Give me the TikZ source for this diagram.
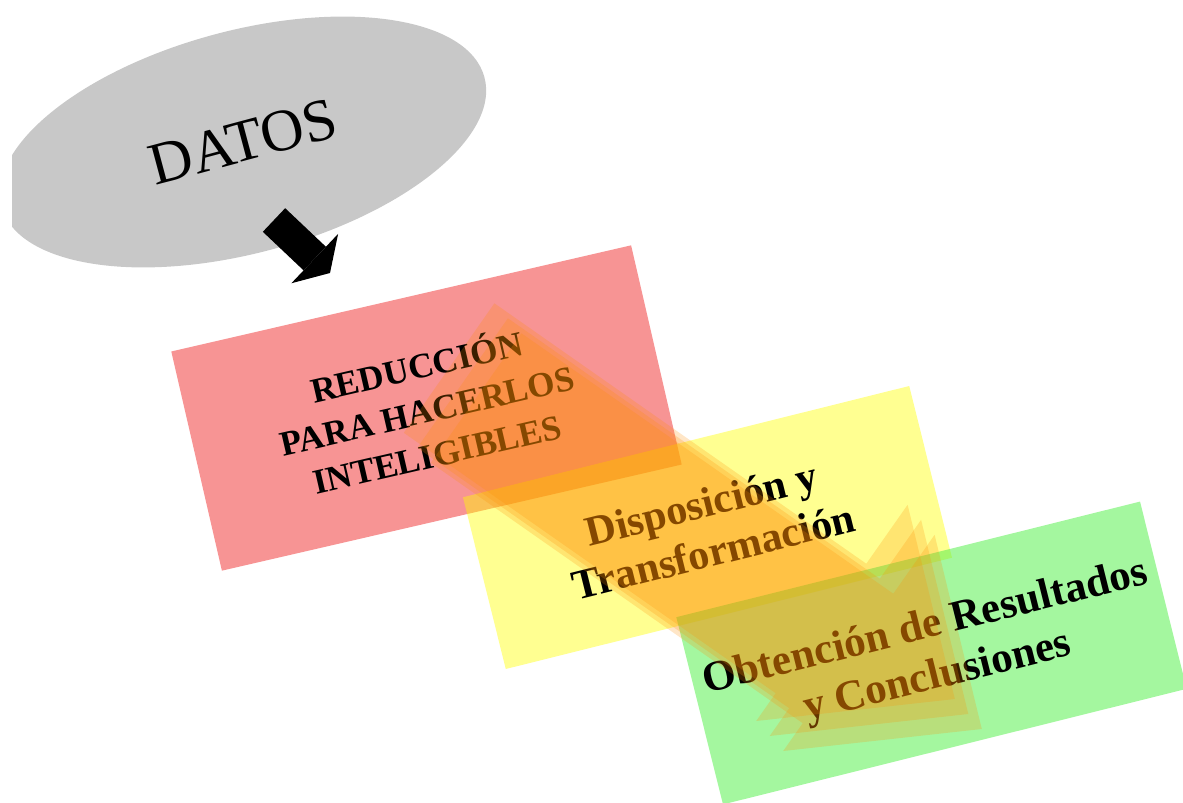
\documentclass[tikz,border=0pt]{standalone}
\usepackage{fontspec}
\setmainfont{Liberation Serif}
\usetikzlibrary{shapes.geometric, arrows.meta}
\definecolor{datosgray}{RGB}{200,200,200}
\definecolor{stepredc}{RGB}{240,60,60}
\definecolor{stepyellowc}{RGB}{255,255,0}
\definecolor{stepgreenc}{RGB}{90,240,80}
\definecolor{floworange}{RGB}{255,140,0}

\begin{document}
\begin{tikzpicture}[x=0.02cm, y=-0.02cm,
  datos/.style={ellipse, fill=datosgray, inner sep=0pt, minimum width=10cm,
    minimum height=4.45cm, rotate=15, font=\fontsize{34}{40}\selectfont},
  datosarrow/.style={line width=0.65cm,
    -{Triangle[length=0.42cm, width=1.36cm, line width=0pt]}},
  stepbox/.style={rectangle, inner sep=0pt, align=center, text=black,
    fill opacity=.55, text opacity=1},
  stepred/.style={stepbox, fill=stepredc, minimum width=9.44cm, minimum height=4.5cm,
    rotate=13, font=\fontsize{20}{25.5}\selectfont\bfseries},
  stepyellow/.style={stepbox, fill=stepyellowc, fill opacity=.43, minimum width=9.2cm,
    minimum height=3.54cm, rotate=14, font=\fontsize{24}{28}\selectfont\bfseries},
  stepgreen/.style={stepbox, fill=stepgreenc, minimum width=9.56cm, minimum height=3.86cm,
    rotate=14, font=\fontsize{24.5}{29}\selectfont\bfseries},
  flow/.style={fill=floworange, fill opacity=.22}]

  \useasboundingbox (0,0) rectangle (1183,803);

  % datos cloud, cut at the left edge
  \begin{scope}
    \clip (12,0) rectangle (1183,803);
    \node[datos] (datos) at (243,142) {DATOS};
  \end{scope}

  % arrow into the first step
  \coordinate (dtail) at (274,220);
  \coordinate (dtip) at (330,273);
  \draw[datosarrow] (dtail) -- (dtip);

  % the three steps
  \node[stepred] (reduc) at (426.5,408) {REDUCCIÓN\\PARA HACERLOS\\INTELIGIBLES};
  \node[stepyellow] (dispo) at (707.5,527.5) {Disposición y\\Transformación};
  \node[stepgreen] (concl) at (931.5,653) {Obtención de Resultados\\y Conclusiones};

  % big flow arrow, ghost layers
  \foreach \dx/\dy in {0/0, 13.5/15, 27/30} {
    \fill[flow, shift={(\dx,\dy)}] (494.4,303.3) -- (866.3,563.7) -- (907.6,504.8)
      -- (954.8,699) -- (756.2,721) -- (775.7,693.2) -- (403.8,432.8) -- cycle;
  }
\end{tikzpicture}
\end{document}
